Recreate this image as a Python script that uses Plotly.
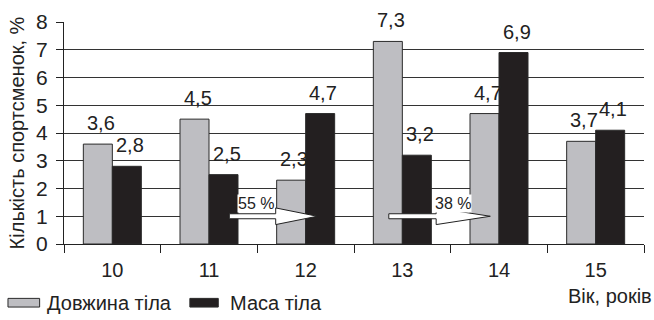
import plotly.graph_objects as go

ages = ["10", "11", "12", "13", "14", "15"]
body_length = [3.6, 4.5, 2.3, 7.3, 4.7, 3.7]
body_mass = [2.8, 2.5, 4.7, 3.2, 6.9, 4.1]
series_names = ["Довжина тіла", "Маса тіла"]
y_ticks = [0, 1, 2, 3, 4, 5, 6, 7, 8]

FONT = "Liberation Sans, Arial, sans-serif"
GRAY = "#bebec2"
DARK = "#231f20"
EDGE = "#2a2a2a"
TXT = "#222"

fig = go.Figure()
for name, vals, col in [(series_names[0], body_length, GRAY),
                        (series_names[1], body_mass, DARK)]:
    fig.add_trace(go.Bar(
        x=ages, y=vals, name=name,
        marker=dict(color=col, line=dict(color=EDGE, width=1)),
    ))


def arrow(x0, xh, x1, yc, sh=0.09, hh=0.3):
    return (f"M {x0},{yc - sh} L {xh},{yc - sh} L {xh},{yc - hh} L {x1},{yc} "
            f"L {xh},{yc + hh} L {xh},{yc + sh} L {x0},{yc + sh} Z")


shapes = [
    dict(type="path", xref="x", yref="y", path=arrow(1.21, 1.69, 2.12, 1.0),
         fillcolor="white", line=dict(color=TXT, width=1), layer="above"),
    dict(type="path", xref="x", yref="y", path=arrow(2.86, 3.35, 3.91, 1.0),
         fillcolor="white", line=dict(color=TXT, width=1), layer="above"),
    # legend swatches
    dict(type="rect", xref="paper", yref="paper", x0=-0.0966, x1=-0.042,
         y0=-0.284, y1=-0.245, fillcolor=GRAY, line=dict(color=EDGE, width=1)),
    dict(type="rect", xref="paper", yref="paper", x0=0.217, x1=0.266,
         y0=-0.284, y1=-0.245, fillcolor=DARK, line=dict(color=EDGE, width=1)),
]

annotations = []
# value labels above each bar, in comma-decimal format (x given as category index)
for vals, dx in [(body_length, -11.5), (body_mass, 17.5)]:
    for i, v in enumerate(vals):
        annotations.append(dict(
            x=i, y=v, xref="x", yref="y", text=f"{v:.1f}".replace(".", ","),
            showarrow=False, xshift=dx, yshift=8, yanchor="bottom",
            font=dict(family=FONT, size=20, color=TXT)))

annotations += [
    dict(x=1.49, y=1.45, xref="x", yref="y", text="55 %", showarrow=False,
         bgcolor="white", borderpad=0, font=dict(family=FONT, size=16, color=TXT)),
    dict(x=3.52, y=1.45, xref="x", yref="y", text="38 %", showarrow=False,
         bgcolor="white", borderpad=0, font=dict(family=FONT, size=16, color=TXT)),
    dict(x=-0.033, y=-0.264, xref="paper", yref="paper", text=series_names[0],
         showarrow=False, xanchor="left", yanchor="middle",
         font=dict(family=FONT, size=20, color=TXT)),
    dict(x=0.283, y=-0.264, xref="paper", yref="paper", text=series_names[1],
         showarrow=False, xanchor="left", yanchor="middle",
         font=dict(family=FONT, size=20, color=TXT)),
    dict(x=1.017, y=-0.232, xref="paper", yref="paper", text="Вік, років",
         showarrow=False, xanchor="right", yanchor="middle",
         font=dict(family=FONT, size=20, color=TXT)),
]

fig.update_layout(
    width=654, height=320,
    margin=dict(l=64, r=10, t=15, b=76),
    paper_bgcolor="white", plot_bgcolor="white",
    barmode="group", bargap=0.4, bargroupgap=0,
    showlegend=False,
    font=dict(family=FONT, size=20, color=TXT),
    shapes=shapes, annotations=annotations,
    xaxis=dict(
        type="category", categoryorder="array", categoryarray=ages,
        range=[-0.5, len(ages) - 0.5],
        tickson="boundaries", ticks="outside", ticklen=8,
        tickcolor=TXT, showline=True, linecolor=TXT, linewidth=1,
        showgrid=False, tickfont=dict(size=20), ticklabelstandoff=8,
    ),
    yaxis=dict(
        range=[0, 8], tickvals=y_ticks, ticks="outside", ticklen=7,
        tickcolor=TXT, showline=True, linecolor=TXT, linewidth=1,
        showgrid=True, gridcolor="#333", gridwidth=1, zeroline=False,
        tickfont=dict(size=21), ticklabelstandoff=4,
        title=dict(text="Кількість спортсменок, %", font=dict(size=20),
                   standoff=6),
    ),
)

fig.write_html("out.html")
